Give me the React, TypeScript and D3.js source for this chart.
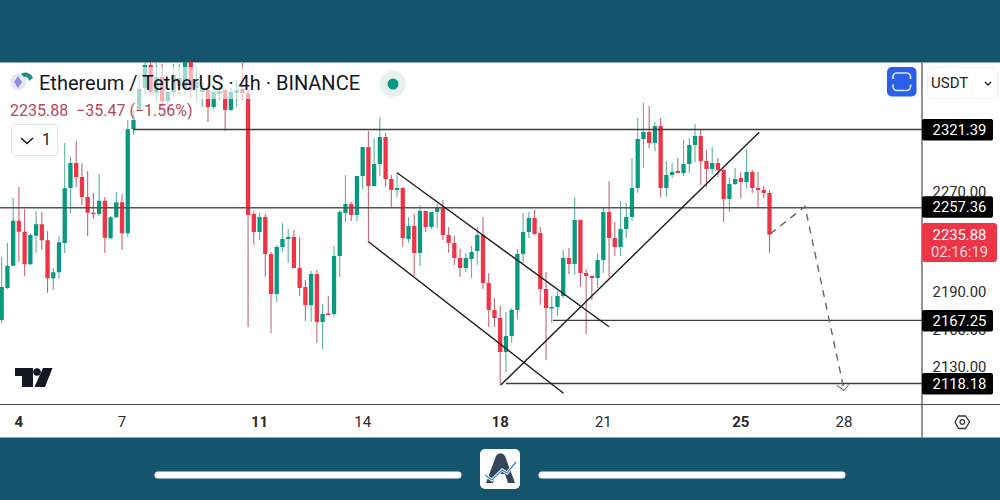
import React from "react";
import * as d3 from "d3";

const opens = [2167.6,2193.2,2211.0,2247.0,2238.2,2212.2,2235.0,2244.2,2231.4,2201.0,2205.8,2229.2,2273.2,2293.2,2282.0,2266.0,2253.4,2252.4,2263.0,2233.0,2249.8,2261.8,2237.0,2320.4,2336.4,2353.2,2371.6,2349.2,2362.0,2342.8,2350.0,2354.8,2353.2,2374.0,2353.2,2350.0,2351.6,2338.0,2348.4,2351.6,2335.6,2349.2,2352.4,2349.2,2252.4,2238.0,2250.0,2220.4,2188.4,2226.0,2232.4,2234.0,2209.2,2194.0,2179.6,2204.4,2166.0,2172.8,2172.4,2218.8,2253.2,2260.4,2251.6,2282.8,2306.0,2274.8,2292.4,2314.0,2280.4,2271.6,2273.2,2232.4,2242.8,2221.2,2254.8,2242.0,2254.0,2258.0,2235.6,2229.2,2217.2,2209.2,2216.4,2222.8,2235.6,2197.2,2175.6,2169.2,2142.0,2154.8,2175.6,2220.4,2238.0,2249.2,2237.2,2192.4,2177.2,2178.0,2186.8,2217.2,2212.4,2247.6,2205.2,2202.8,2201.2,2215.6,2254.0,2233.2,2226.0,2240.4,2250.0,2273.2,2312.4,2318.0,2309.2,2322.8,2273.2,2283.6,2286.8,2285.2,2292.4,2307.6,2314.8,2294.8,2288.4,2293.2,2287.6,2264.4,2276.4,2281.2,2278.0,2286.0,2273.2,2271.6,2269.2];
const closes = [2194.0,2211.0,2247.0,2238.2,2212.2,2235.6,2244.2,2231.4,2201.0,2205.8,2229.8,2273.0,2293.2,2282.0,2266.0,2253.4,2252.4,2263.0,2233.4,2249.8,2261.8,2237.0,2320.2,2327.6,2352.4,2371.6,2350.0,2362.0,2342.8,2350.0,2363.6,2361.2,2374.0,2351.6,2358.0,2353.2,2338.0,2350.0,2350.8,2335.6,2350.0,2351.6,2349.2,2251.6,2238.0,2250.0,2220.4,2188.4,2226.0,2232.4,2234.0,2209.2,2193.2,2179.6,2204.4,2166.0,2172.4,2171.6,2218.8,2254.0,2260.4,2251.6,2282.8,2306.0,2274.8,2292.4,2314.0,2280.4,2271.6,2273.2,2233.2,2242.8,2221.2,2254.8,2242.0,2254.0,2258.0,2235.6,2229.2,2217.2,2209.2,2217.2,2222.0,2235.6,2197.2,2175.6,2169.2,2142.0,2154.8,2175.6,2220.4,2238.0,2249.2,2236.4,2192.4,2177.2,2178.0,2186.8,2217.2,2212.4,2247.6,2205.2,2202.8,2201.2,2215.6,2254.0,2233.2,2226.0,2240.4,2250.0,2273.2,2312.4,2318.0,2309.2,2322.8,2273.2,2283.6,2286.0,2285.2,2292.4,2307.6,2314.8,2294.8,2288.4,2293.2,2287.6,2264.4,2276.4,2280.4,2278.0,2286.0,2273.2,2271.6,2269.2,2235.88];
const highs = [2218.0,2229.2,2265.2,2274.0,2256.4,2237.2,2254.8,2254.0,2238.8,2209.2,2234.8,2309.2,2298.0,2310.8,2293.2,2286.8,2269.2,2284.4,2266.0,2250.8,2270.0,2268.4,2327.6,2335.6,2363.6,2377.2,2377.2,2373.2,2372.4,2359.6,2372.4,2372.4,2379.6,2379.6,2370.0,2358.0,2356.4,2353.2,2355.6,2353.2,2353.2,2359.6,2373.2,2351.6,2254.8,2253.2,2252.4,2222.0,2227.6,2245.2,2240.4,2239.6,2234.0,2199.6,2206.8,2207.6,2180.4,2186.8,2226.8,2255.6,2283.6,2262.0,2282.8,2306.0,2318.8,2313.2,2330.0,2317.2,2283.6,2285.2,2274.0,2250.0,2252.4,2259.6,2254.8,2254.0,2260.4,2263.6,2242.0,2234.8,2224.4,2221.2,2226.8,2242.0,2250.0,2205.2,2185.2,2178.8,2174.0,2177.2,2224.4,2253.2,2254.0,2255.6,2242.0,2206.0,2186.8,2190.8,2223.6,2225.2,2266.0,2247.6,2208.4,2203.6,2221.2,2257.2,2278.8,2246.0,2262.8,2261.2,2297.2,2329.2,2341.2,2338.8,2326.0,2329.2,2294.8,2293.2,2297.2,2311.6,2313.2,2324.4,2319.6,2303.6,2306.0,2297.2,2288.4,2281.2,2289.2,2286.0,2304.4,2287.6,2286.0,2274.8,2271.6];
const lows = [2165.2,2192.4,2210.8,2214.0,2202.8,2211.6,2221.2,2223.6,2189.2,2191.6,2200.4,2221.2,2253.2,2274.0,2259.6,2234.8,2248.4,2250.8,2221.2,2232.4,2249.2,2223.6,2234.0,2315.6,2334.0,2347.6,2347.6,2342.0,2337.2,2335.6,2346.0,2347.6,2347.6,2345.2,2342.0,2338.0,2326.0,2336.4,2343.6,2318.8,2334.8,2338.0,2343.6,2162.0,2227.6,2231.6,2202.0,2157.2,2182.0,2222.0,2213.2,2209.2,2186.8,2166.8,2166.0,2149.2,2144.4,2171.6,2170.0,2202.0,2246.0,2246.8,2246.8,2272.4,2230.0,2274.8,2282.8,2274.0,2258.0,2266.0,2226.0,2229.2,2202.8,2210.8,2238.0,2240.4,2241.2,2231.6,2221.2,2211.6,2202.0,2206.0,2201.2,2211.6,2192.4,2162.0,2162.0,2115.6,2126.0,2149.2,2168.4,2213.2,2233.2,2235.6,2179.6,2135.6,2165.2,2170.8,2185.2,2204.4,2203.6,2194.0,2156.4,2183.6,2193.2,2205.2,2202.0,2218.8,2218.8,2233.2,2246.8,2269.2,2289.2,2305.2,2302.8,2266.0,2266.0,2281.2,2285.2,2282.8,2285.2,2294.0,2275.6,2274.0,2284.4,2282.0,2246.0,2254.0,2275.6,2265.2,2273.2,2269.2,2258.0,2265.2,2221.2];

const levelPrices = [2320.0, 2257.4, 2167.25, 2116.8];
const levelStarts = [22.9, -1, 96.2, 88.0];
const levelLabels = ["2321.39", "2257.36", "2167.25", "2118.18"];
const labelPrices = [2320.0, 2258.2, 2167.25, 2116.8];
const priceTicks = [2270, 2190, 2160, 2130];
const dayTicks = [3, 21, 45, 63, 87, 105, 129, 147];
const dayLabels = ["4", "7", "11", "14", "18", "21", "25", "28"];
const dayBold = [true, false, true, false, true, false, true, false];
const trendLines: [number, number, number, number][] = [
  [69.0, 2285.4, 106.0, 2162.2],
  [64.0, 2230.2, 98.05, 2109.0],
  [87.1, 2115.6, 132.2, 2317.8],
];
const forecastBars = [134.1, 140.2, 147.0];
const forecastPrices = [2236.4, 2258.4, 2112.0];

const x = d3.scaleLinear().domain([0, 134]).range([1.7, 769.5]);
const y = d3.scaleLinear().domain([2270, 2130]).range([192, 367]);
const UP = "#089981";
const DOWN = "#ee3548";
const UPW = "#5fb0a0";
const DOWNW = "#bd6a78";
const BAR = "#14546d";
const FONT = "Roboto, sans-serif";
const forecastLine = d3.line<number>().x((d) => x(d)).y((_, i) => y(forecastPrices[i]));

export default function App() {
  const tip = [x(forecastBars[2]), y(forecastPrices[2])];
  return (
    <svg width={1000} height={500} viewBox="0 0 1000 500" style={{ position: "fixed", left: 0, top: 0, display: "block", background: "#fff" }} fontFamily={FONT}>
      <defs>
        <clipPath id="plot"><rect x={0} y={62} width={922} height={342} /></clipPath>
      </defs>
      <rect x={0} y={0} width={1000} height={62.5} fill={BAR} />
      <rect x={0} y={437.5} width={1000} height={62.5} fill={BAR} />

      <g clipPath="url(#plot)">
        {opens.map((o, i) => {
          const c = closes[i];
          const up = c >= o;
          const top = y(Math.max(o, c));
          const bottom = y(Math.min(o, c));
          return (
            <g key={i}>
              <line x1={x(i)} x2={x(i)} y1={y(highs[i])} y2={y(lows[i])} stroke={up ? UPW : DOWNW} strokeWidth={1.1} />
              <rect x={x(i) - 2.15} width={4.3} y={top} height={Math.max(bottom - top, 1.5)} fill={up ? UP : DOWN} />
            </g>
          );
        })}
        <rect x={0} y={67} width={365} height={32} fill="#fff" opacity={0.6} />
        <rect x={0} y={99} width={197} height={21} fill="#fff" opacity={0.6} />
      </g>

      {levelPrices.map((p, i) => (
        <line key={p} x1={Math.max(x(levelStarts[i]), 0)} x2={922} y1={y(p)} y2={y(p)} stroke={i === 1 ? "#555" : "#3c3c3c"} strokeWidth={i === 1 ? 1.6 : 1.3} />
      ))}
      {trendLines.map((t, i) => (
        <line key={i} x1={x(t[0])} y1={y(t[1])} x2={x(t[2])} y2={y(t[3])} stroke="#1c1c1c" strokeWidth={1.4} />
      ))}
      <path d={forecastLine(forecastBars) ?? ""} fill="none" stroke="#666" strokeWidth={1.4} strokeDasharray="7 6" />
      <path d={`M${tip[0] - 7},${tip[1] - 4}L${tip[0]},${tip[1] + 1}L${tip[0] + 5},${tip[1] - 5}`} fill="none" stroke="#777" strokeWidth={1.1} />

      {/* legend */}
      <circle cx={18} cy={82} r={8} fill="#e8e6f4" />
      <path d="M18,76 L22,82 L18,88 L14,82 Z" fill="#8f8be0" />
      <path d="M21,74 A8,8 0 0 1 33,78 L29,81 A4,4 0 0 0 24,77 Z" fill="#1f8f88" />
      <text x={39} y={90} fontSize={20} fill="#131722">Ethereum / TetherUS · 4h · BINANCE</text>
      <circle cx={393} cy={84} r={13} fill="#e4f1ef" />
      <circle cx={393} cy={84} r={5.5} fill={UP} />
      <text x={10} y={115.5} fontSize={16} fill="#b5485c" xmlSpace="preserve" style={{ whiteSpace: "pre" }}>2235.88  −35.47 (−1.56%)</text>
      <rect x={11.5} y={124.5} width={46} height={31} rx={4} fill="#fff" stroke="#e3e3e3" />
      <path d="M21,138 L27,143.5 L33,138" fill="none" stroke="#131722" strokeWidth={1.6} />
      <text x={42} y={145} fontSize={16} fill="#222">1</text>

      {/* top-right buttons */}
      <rect x={887} y={67} width={29.5} height={29.5} rx={5} fill="#2a5fe9" />
      <rect x={893} y={73} width={17.5} height={17.5} rx={4} fill="none" stroke="#dfe8ff" strokeWidth={1.7} />
      <rect x={890} y={79} width={24} height={5.5} fill="#2a5fe9" />
      <rect x={927.5} y={67.5} width={70} height={31} rx={5} fill="#fff" stroke="#eeeeee" />
      <text x={931} y={87.5} fontSize={15} fill="#222">USDT</text>
      <path d="M985,82 L988,85 L991,82" fill="none" stroke="#222" strokeWidth={1.4} />

      {/* axes */}
      <line x1={922} x2={922} y1={62.5} y2={437.5} stroke="#4a4a4a" strokeWidth={1.2} />
      <line x1={0} x2={1000} y1={404.5} y2={404.5} stroke="#4a4a4a" strokeWidth={1.2} />
      {priceTicks.map((p) => (
        <text key={p} x={959.5} y={y(p)} dy="0.36em" fontSize={14.8} textAnchor="middle" fill="#2a2a2a">{p.toFixed(2)}</text>
      ))}
      {levelLabels.map((l, i) => {
        const cy = y(labelPrices[i]);
        return (
          <g key={l}>
            <rect x={922} y={cy - 10.5} width={71} height={21.5} rx={2} fill="#000" />
            <text x={959.5} y={cy} dy="0.36em" fontSize={14.8} textAnchor="middle" fill="#fff">{l}</text>
          </g>
        );
      })}
      <rect x={922} y={223} width={75} height={39} rx={3} fill="#ee3548" />
      <text x={959.5} y={235} dy="0.36em" fontSize={14.8} textAnchor="middle" fill="#fff">2235.88</text>
      <text x={959.5} y={252} dy="0.36em" fontSize={14.8} textAnchor="middle" fill="#ffd9dd">02:16:19</text>
      {dayTicks.map((d, i) => (
        <text key={d} x={x(d)} y={422} dy="0.36em" fontSize={15} textAnchor="middle" fontWeight={dayBold[i] ? 700 : 400} fill="#2a2a2a">{dayLabels[i]}</text>
      ))}
      <path d="M955,422 L958.5,416 L965.5,416 L969.5,422 L965.5,428.5 L958.5,428.5 Z" fill="none" stroke="#333" strokeWidth={1.3} />
      <circle cx={962.3} cy={422} r={2.3} fill="none" stroke="#333" strokeWidth={1.2} />

      {/* TradingView mark */}
      <path d="M15,368 H33 V387 H22 V376 H15 Z" fill="#131722" />
      <circle cx={37} cy={372} r={3.8} fill="#131722" />
      <path d="M43,368 H52.5 L45,387 H34.5 Z" fill="#131722" />

      {/* footer */}
      <line x1={158} x2={458} y1={475} y2={475} stroke="#fff" strokeWidth={7} strokeLinecap="round" />
      <line x1={542} x2={842} y1={475} y2={475} stroke="#fff" strokeWidth={7} strokeLinecap="round" />
      <rect x={480} y={449} width={40} height={40} rx={5} fill="#fff" />
      <path d="M486,483 L496,456 A5,5 0 0 1 505,456 L515,483 L508,483 L505,474 L496,474 L493,483 Z" fill="#35465a" />
      <path d="M485,475 L492,480 L502,470 L507,473 L516,462" fill="none" stroke="#fff" strokeWidth={3} />
      <path d="M485,475 L492,480 L502,470 L507,473 L516,462" fill="none" stroke="#2f86c9" strokeWidth={1.2} />
    </svg>
  );
}
